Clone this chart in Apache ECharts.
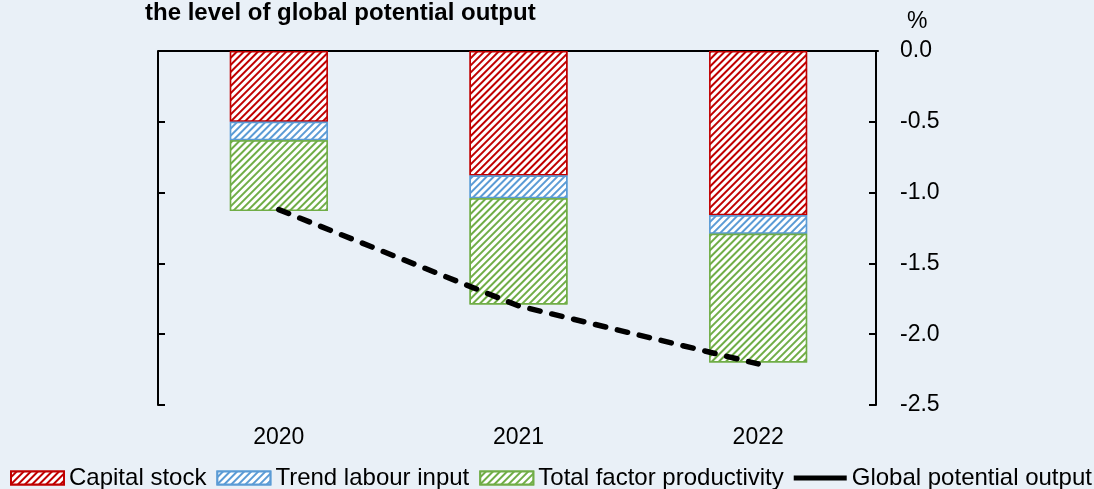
<!DOCTYPE html>
<html>
<head>
<meta charset="utf-8">
<script src="https://cdn.jsdelivr.net/npm/echarts@6/dist/echarts.min.js"></script>
<style>
  html, body { margin: 0; padding: 0; background: #e9f0f7; }
  #chart { width: 1094px; height: 489px; }
</style>
</head>
<body>
<div id="chart"></div>
<script>
// data
const years = ['2020', '2021', '2022']
const capitalStock = [-0.50, -0.88, -1.16]
const trendLabour = [-0.13, -0.16, -0.13]
const tfp = [-0.50, -0.75, -0.91]
const potentialOutput = [-1.12, -1.80, -2.21]
const yTicks = [0, -0.5, -1.0, -1.5, -2.0, -2.5]

const FONT = 'Arial, "Liberation Sans", sans-serif'

// diagonal hatch, white stripes over the bar colour
const hatch = {
  color: '#ffffff',
  symbol: 'rect',
  symbolSize: 1,
  dashArrayX: [1, 0],
  dashArrayY: [2.2, 1.4],
  rotation: -Math.PI / 4
}

function barSeries (name, color, data) {
  return {
    name: name,
    type: 'bar',
    stack: 'total',
    data: data,
    barWidth: 98,
    itemStyle: {
      color: color,
      borderColor: color,
      borderWidth: 1.5,
      decal: hatch
    }
  }
}

const chart = echarts.init(document.getElementById('chart'))

const yCommon = {
  type: 'value',
  min: yTicks[yTicks.length - 1],
  max: yTicks[0],
  interval: 0.5,
  splitLine: { show: false },
  axisLine: { show: true, onZero: false, lineStyle: { color: '#000', width: 2 } },
  axisTick: { show: true, inside: true, length: 7, lineStyle: { color: '#000', width: 2 } }
}

chart.setOption({
  backgroundColor: '#e9f0f7',
  animation: false,
  textStyle: { fontFamily: FONT },
  title: {
    text: 'the level of global potential output',
    left: 145,
    top: 1,
    padding: 0,
    textStyle: { fontSize: 24, fontWeight: 'bold', color: '#000', fontFamily: FONT }
  },
  graphic: [{
    type: 'text',
    left: 907,
    top: 10,
    style: { text: '%', fontSize: 23, fill: '#000', fontFamily: FONT }
  }],
  grid: { left: 159, right: 216, top: 51, bottom: 84 },
  legend: {
    left: 10,
    top: 466,
    width: 1084,
    padding: 0,
    icon: 'rect',
    itemWidth: 53,
    itemHeight: 13,
    itemGap: 10,
    textStyle: { fontSize: 24, color: '#000', fontFamily: FONT },
    data: [
      { name: 'Capital stock' },
      { name: 'Trend labour input' },
      { name: 'Total factor productivity' },
      { name: 'Global potential output', icon: 'path://M0,0L53,0L53,5L0,5Z' }
    ]
  },
  xAxis: [{
    type: 'category',
    data: years,
    position: 'bottom',
    axisLine: { show: false, onZero: false },
    axisTick: { show: false },
    axisLabel: { fontSize: 23, color: '#000', margin: 21, fontFamily: FONT }
  }, {
    type: 'category',
    data: years,
    position: 'top',
    axisLine: { show: true, onZero: false, lineStyle: { color: '#000', width: 2 } },
    axisTick: { show: false },
    axisLabel: { show: false }
  }],
  yAxis: [
    Object.assign({}, yCommon, {
      position: 'left',
      offset: 1,
      axisLabel: { show: false }
    }),
    Object.assign({}, yCommon, {
      position: 'right',
      offset: -2,
      axisLabel: {
        fontSize: 23,
        color: '#000',
        margin: 24,
        align: 'left',
        fontFamily: FONT,
        formatter: (v) => v.toFixed(1)
      }
    })
  ],
  series: [
    barSeries('Capital stock', '#c00000', capitalStock),
    barSeries('Trend labour input', '#5b9bd5', trendLabour),
    barSeries('Total factor productivity', '#70ad47', tfp),
    {
      name: 'Global potential output',
      type: 'line',
      data: potentialOutput,
      symbol: 'none',
      z: 5,
      lineStyle: { color: '#000', width: 5.5, type: [10.5, 12], cap: 'round' },
      itemStyle: { color: '#000' }
    }
  ]
})
</script>
</body>
</html>
